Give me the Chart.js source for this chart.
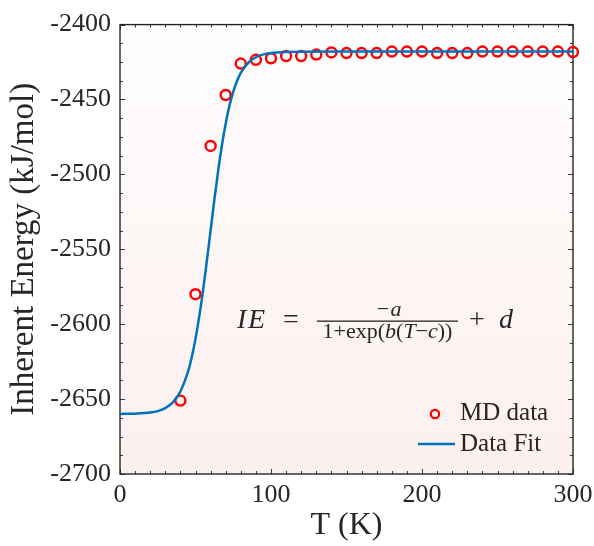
<!DOCTYPE html>
<html>
<head>
<meta charset="utf-8">
<title>Inherent Energy vs T</title>
<script src="https://cdn.jsdelivr.net/npm/chart.js@4.4.0/dist/chart.umd.min.js"></script>
<style>
    html, body { margin: 0; padding: 0; background: #fff; }
    #wrap { width: 594px; height: 546px; }
</style>
</head>
<body>
<div id="wrap"><canvas id="ieChart" width="594" height="546"></canvas></div>
<script>
// MD data
const mdTemps = [40, 50, 60, 70, 80, 90, 100, 110, 120, 130, 140, 150, 160, 170, 180,
                 190, 200, 210, 220, 230, 240, 250, 260, 270, 280, 290, 300];
const mdEnergy = [-2651, -2580, -2481, -2447, -2426, -2423.5, -2422.5, -2421, -2421, -2420,
                  -2418.6, -2419, -2419, -2419, -2418, -2418, -2418, -2419, -2419, -2419,
                  -2418, -2418, -2418, -2418, -2418, -2418, -2418.3];

// fitted curve, sampled from the plotted line
const fitTemps = [0, 10, 20, 25, 30, 35, 40, 45, 47.5, 50, 52.5, 55, 57.5, 60, 62.5, 65,
                  67.5, 70, 72.5, 75, 77.5, 80, 85, 90, 95, 100, 110, 120, 150, 200, 250, 300];
const fitEnergy = [-2659.9, -2659.7, -2659.0, -2658.0, -2656.0, -2652.2, -2644.9, -2631.9,
                   -2622.1, -2609.8, -2594.8, -2577.4, -2557.9, -2537.4, -2516.9, -2497.6,
                   -2480.5, -2466.0, -2454.1, -2444.9, -2437.7, -2432.3, -2425.4, -2421.8,
                   -2419.9, -2419.0, -2418.3, -2418.1, -2418, -2418, -2418, -2418];

const xTicks = [0, 100, 200, 300];
const yTicks = [-2700, -2650, -2600, -2550, -2500, -2450, -2400];

const SERIF = "'Liberation Serif', 'Times New Roman', serif";
const INK = '#262626';

// background, inward ticks and box (MATLAB look)
const framePlugin = {
    id: 'frame',
    beforeDatasetsDraw(chart) {
        const { ctx, chartArea: a, scales: { x, y } } = chart;
        ctx.save();
        const g = ctx.createLinearGradient(0, a.top, 0, a.bottom);
        g.addColorStop(0, '#fefdfd');
        g.addColorStop(1, '#fcf0ee');
        ctx.fillStyle = g;
        ctx.fillRect(a.left, a.top, a.right - a.left, a.bottom - a.top);

        ctx.strokeStyle = '#3a3a3a';
        ctx.lineWidth = 1;
        ctx.beginPath();
        for (let v = x.min; v <= x.max; v += 10) {
            const px = Math.round(x.getPixelForValue(v)) + 0.5;
            const len = xTicks.includes(v) ? 5 : 3;
            ctx.moveTo(px, a.bottom); ctx.lineTo(px, a.bottom - len);
            ctx.moveTo(px, a.top); ctx.lineTo(px, a.top + len);
        }
        for (let v = y.min; v <= y.max; v += 12.5) {
            const py = Math.round(y.getPixelForValue(v)) + 0.5;
            const len = yTicks.includes(v) ? 5 : 3;
            ctx.moveTo(a.left, py); ctx.lineTo(a.left + len, py);
            ctx.moveTo(a.right, py); ctx.lineTo(a.right - len, py);
        }
        ctx.stroke();

        ctx.strokeStyle = INK;
        ctx.lineWidth = 1.4;
        ctx.strokeRect(a.left, a.top, a.right - a.left, a.bottom - a.top);
        ctx.restore();
    }
};

// legend in the lower right corner and the fit equation
const annotatePlugin = {
    id: 'annotate',
    afterDraw(chart) {
        const { ctx, chartArea: a } = chart;
        const md = chart.data.datasets[0];
        const fit = chart.data.datasets[1];
        ctx.save();

        // legend
        const lx = a.right - 138;
        ctx.lineWidth = 2.2;
        ctx.strokeStyle = md.pointBorderColor;
        ctx.beginPath();
        ctx.arc(lx, 414, 4.2, 0, Math.PI * 2);
        ctx.stroke();
        ctx.strokeStyle = fit.borderColor;
        ctx.lineWidth = 2.5;
        ctx.beginPath();
        ctx.moveTo(a.right - 155, 444);
        ctx.lineTo(a.right - 118, 444);
        ctx.stroke();
        ctx.fillStyle = INK;
        ctx.font = '25px ' + SERIF;
        ctx.textBaseline = 'alphabetic';
        ctx.textAlign = 'left';
        ctx.fillText(md.label, a.right - 113, 420);
        ctx.fillText(fit.label, a.right - 113, 451);

        // IE = -a / (1+exp(b(T-c))) + d
        ctx.font = 'italic 28px ' + SERIF;
        ctx.fillText('I', 237, 328);
        ctx.fillText('E', 248, 328);
        ctx.font = '28px ' + SERIF;
        ctx.fillText('=', 283, 328);
        ctx.fillText('+', 469, 328);
        ctx.font = 'italic 28px ' + SERIF;
        ctx.fillText('d', 499, 328);

        ctx.fillRect(317, 320.5, 141, 1.3);
        ctx.textAlign = 'center';
        ctx.font = '22px ' + SERIF;
        ctx.fillText('\u2212', 383, 316);
        ctx.font = 'italic 22px ' + SERIF;
        ctx.fillText('a', 396, 316);

        // denominator, drawn piece by piece to mix upright and italic
        const parts = [['1+exp(', false], ['b', true], ['(', false], ['T', true],
                       ['\u2212', false], ['c', true], ['))', false]];
        const fs = '22px ';
        let w = 0;
        parts.forEach(p => {
            ctx.font = (p[1] ? 'italic ' : '') + fs + SERIF;
            w += ctx.measureText(p[0]).width;
        });
        let cx = 387.5 - w / 2;
        ctx.textAlign = 'left';
        parts.forEach(p => {
            ctx.font = (p[1] ? 'italic ' : '') + fs + SERIF;
            ctx.fillText(p[0], cx, 338);
            cx += ctx.measureText(p[0]).width;
        });
        ctx.restore();
    }
};

const ctx = document.getElementById('ieChart').getContext('2d');
new Chart(ctx, {
    type: 'scatter',
    data: {
        datasets: [{
            label: 'MD data',
            data: mdTemps.map((t, i) => ({ x: t, y: mdEnergy[i] })),
            showLine: false,
            pointStyle: 'circle',
            pointRadius: 5,
            pointHoverRadius: 5,
            pointBorderWidth: 2.4,
            pointBorderColor: '#ff0000',
            pointBackgroundColor: 'rgba(0,0,0,0)',
            clip: false,
            order: 1
        }, {
            label: 'Data Fit',
            data: fitTemps.map((t, i) => ({ x: t, y: fitEnergy[i] })),
            showLine: true,
            borderColor: '#0072bd',
            borderWidth: 2.5,
            pointRadius: 0,
            cubicInterpolationMode: 'monotone',
            order: 0
        }]
    },
    options: {
        responsive: false,
        animation: false,
        layout: { padding: { top: 22, right: 21, left: 0, bottom: 0 } },
        plugins: {
            legend: { display: false },
            tooltip: { enabled: false }
        },
        scales: {
            x: {
                type: 'linear',
                min: 0,
                max: 300,
                afterBuildTicks: s => { s.ticks = xTicks.map(v => ({ value: v })); },
                afterFit: s => { s.height = 72; s.paddingRight = 0; s.paddingLeft = 0; },
                grid: { display: false, drawTicks: false },
                border: { display: false },
                ticks: {
                    color: INK,
                    padding: 6,
                    maxRotation: 0,
                    font: { family: SERIF, size: 26 },
                    callback: v => String(v)
                },
                title: {
                    display: true,
                    text: 'T (K)',
                    color: INK,
                    padding: { top: 0, bottom: 1 },
                    font: { family: SERIF, size: 32 }
                }
            },
            y: {
                type: 'linear',
                min: -2700,
                max: -2400,
                afterBuildTicks: s => { s.ticks = yTicks.map(v => ({ value: v })); },
                afterFit: s => { s.width = 120; },
                grid: { display: false, drawTicks: false },
                border: { display: false },
                ticks: {
                    color: INK,
                    padding: 9,
                    font: { family: SERIF, size: 26 },
                    callback: v => String(v)
                },
                title: {
                    display: true,
                    text: 'Inherent Energy (kJ/mol)',
                    color: INK,
                    padding: { top: 5, bottom: 0 },
                    font: { family: SERIF, size: 33 }
                }
            }
        }
    },
    plugins: [framePlugin, annotatePlugin]
});
</script>
</body>
</html>
